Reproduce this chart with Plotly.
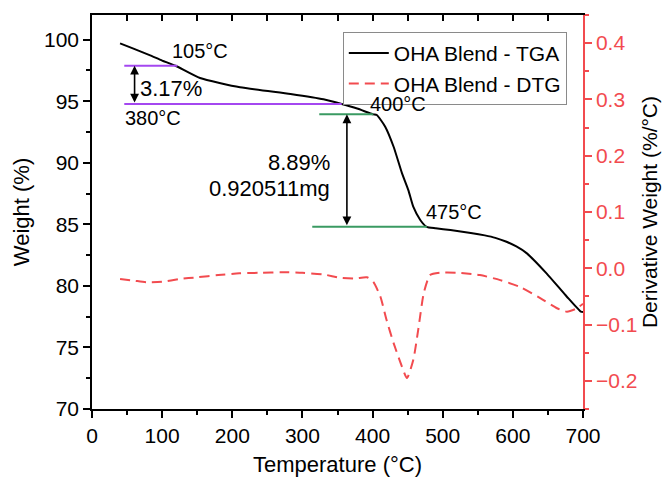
import plotly.graph_objects as go

# ---- data ----
tga_temp = [40, 60, 83, 100, 119, 154, 211, 283, 330, 356, 378, 401, 406, 418, 430, 442, 451, 458, 468, 477, 490, 511, 540, 560, 575, 590, 605, 620, 648, 677, 697, 700]
tga_weight = [99.70, 99.25, 98.72, 98.30, 97.88, 96.88, 96.13, 95.58, 95.15, 94.77, 94.40, 93.93, 93.88, 92.93, 91.30, 89.14, 87.78, 86.43, 85.35, 84.80, 84.68, 84.53, 84.30, 84.10, 83.90, 83.60, 83.20, 82.64, 81.02, 79.12, 77.90, 77.87]

dtg_temp = [40, 60, 80, 100, 125, 150, 180, 210, 240, 270, 300, 330, 355, 375, 392, 401, 411, 420, 430, 442, 449, 458, 465, 473, 482, 496, 520, 553, 582, 610, 639, 663, 677, 690, 700]
dtg_value = [-0.019, -0.022, -0.025, -0.024, -0.019, -0.016, -0.012, -0.009, -0.008, -0.007, -0.008, -0.011, -0.017, -0.018, -0.016, -0.024, -0.050, -0.092, -0.133, -0.175, -0.195, -0.163, -0.110, -0.044, -0.012, -0.008, -0.008, -0.012, -0.021, -0.033, -0.053, -0.071, -0.077, -0.072, -0.063]

series_names = ["OHA Blend - TGA", "OHA Blend - DTG"]

# reference lines (step markers)
purple_y = [97.88, 94.77]
purple_x0 = [46, 46]
purple_x1 = [121.6, 356]
green_y = [93.93, 84.80]
green_x0 = [324, 314]
green_x1 = [401, 477.4]

# double arrows
arrow_x = [60.7, 363.4]
arrow_top = [97.88, 93.93]
arrow_bottom = [94.77, 84.80]

# text labels
label_text = ["105°C", "380°C", "400°C", "475°C"]
label_x = [154.6, 86.7, 435.8, 516.3]
label_y = [99.1, 93.6, 94.77, 86.02]
pct_text = ["3.17%"]
pct_x = [113.3]
pct_y = [96.04]
loss_text = ["8.89%", "0.920511mg"]
loss_x = [341.7, 341.7]
loss_y = [90.0, 87.92]

FONT = "Arial, Liberation Sans, sans-serif"
RED = "#f24b4f"
PURPLE = "#a447f0"
GREEN = "#3a9a62"

fig = go.Figure()
fig.add_trace(go.Scatter(x=tga_temp, y=tga_weight, mode="lines", name=series_names[0],
                         line=dict(color="black", width=2, shape="spline", smoothing=0.5)))
fig.add_trace(go.Scatter(x=dtg_temp, y=dtg_value, mode="lines", name=series_names[1], yaxis="y2",
                         line=dict(color=RED, width=2, dash="10px,6px", shape="spline", smoothing=0.6)))
# invisible trace to enable top x axis
fig.add_trace(go.Scatter(x=[tga_temp[0]], y=[tga_weight[0]], xaxis="x2", mode="markers",
                         marker=dict(opacity=0), showlegend=False, hoverinfo="skip"))

for y, x0, x1 in zip(purple_y, purple_x0, purple_x1):
    fig.add_shape(type="line", x0=x0, x1=x1, y0=y, y1=y, xref="x", yref="y",
                  line=dict(color=PURPLE, width=2))
for y, x0, x1 in zip(green_y, green_x0, green_x1):
    fig.add_shape(type="line", x0=x0, x1=x1, y0=y, y1=y, xref="x", yref="y",
                  line=dict(color=GREEN, width=2))

annotations = []
for x, yt, yb in zip(arrow_x, arrow_top, arrow_bottom):
    annotations.append(dict(x=x, y=yt, ax=x, ay=yb, xref="x", yref="y", axref="x", ayref="y",
                            text="", showarrow=True, arrowhead=2, arrowside="end+start",
                            arrowsize=1.1, arrowwidth=1.6, arrowcolor="black"))
for t, x, y in zip(label_text, label_x, label_y):
    annotations.append(dict(x=x, y=y, xref="x", yref="y", text=t, showarrow=False,
                            xanchor="center", yanchor="middle",
                            font=dict(family=FONT, size=20, color="black")))
for t, x, y in zip(pct_text, pct_x, pct_y):
    annotations.append(dict(x=x, y=y, xref="x", yref="y", text=t, showarrow=False,
                            xanchor="center", yanchor="middle",
                            font=dict(family=FONT, size=22, color="black")))
for t, x, y in zip(loss_text, loss_x, loss_y):
    annotations.append(dict(x=x, y=y, xref="x", yref="y", text=t, showarrow=False,
                            xanchor="right", yanchor="middle",
                            font=dict(family=FONT, size=22, color="black")))

fig.update_layout(
    width=663, height=479,
    margin=dict(l=92, r=80, t=15, b=70, autoexpand=False),
    paper_bgcolor="white", plot_bgcolor="white",
    font=dict(family=FONT, size=21, color="black"),
    showlegend=True,
    legend=dict(x=0.967, y=0.957, xanchor="right", yanchor="top",
                bgcolor="white", bordercolor="#8a8a8a", borderwidth=1,
                font=dict(family=FONT, size=21, color="black"),
                tracegroupgap=0, itemwidth=40),
    annotations=annotations,
    xaxis=dict(range=[0, 700], tickvals=[0, 100, 200, 300, 400, 500, 600, 700],
               ticks="outside", ticklen=7, tickwidth=1.5, tickcolor="black",
               showline=True, linecolor="black", linewidth=1.5,
               showgrid=False, zeroline=False,
               minor=dict(ticks="outside", ticklen=4, dtick=50, tick0=0, tickcolor="black", tickwidth=1.5),
               tickfont=dict(family=FONT, size=21, color="black"),
               title=dict(text="Temperature (°C)", standoff=11,
                          font=dict(family=FONT, size=22, color="black")),
               automargin=False),
    xaxis2=dict(range=[0, 700], overlaying="x", side="top", dtick=50, tick0=0,
                ticks="inside", ticklen=6, tickwidth=1.5, tickcolor="black",
                showticklabels=False, showline=True, linecolor="black", linewidth=1.5,
                showgrid=False, zeroline=False, automargin=False),
    yaxis=dict(range=[70, 102], tickvals=[70, 75, 80, 85, 90, 95, 100],
               ticks="outside", ticklen=7, tickwidth=1.5, tickcolor="black",
               showline=True, linecolor="black", linewidth=1.5,
               showgrid=False, zeroline=False,
               minor=dict(ticks="outside", ticklen=4, dtick=2.5, tick0=70, tickcolor="black", tickwidth=1.5),
               tickfont=dict(family=FONT, size=21, color="black"),
               title=dict(text="Weight (%)", standoff=8,
                          font=dict(family=FONT, size=22, color="black")),
               automargin=False),
    yaxis2=dict(range=[-0.25, 0.45], overlaying="y", side="right",
                tickvals=[-0.2, -0.1, 0.0, 0.1, 0.2, 0.3, 0.4], tickformat=".1f",
                ticks="outside", ticklen=7, tickwidth=1.5, tickcolor=RED,
                showline=True, linecolor=RED, linewidth=1.5,
                showgrid=False, zeroline=False,
                minor=dict(ticks="outside", ticklen=4, dtick=0.05, tick0=0, tickcolor=RED, tickwidth=1.5),
                tickfont=dict(family=FONT, size=21, color=RED),
                title=dict(text="Derivative Weight (%/°C)", standoff=6,
                           font=dict(family=FONT, size=21, color="black")),
                automargin=False),
)

fig.write_html("out.html", config={"displayModeBar": False},
               post_script="document.body.style.margin='0';document.body.style.overflow='hidden';")
